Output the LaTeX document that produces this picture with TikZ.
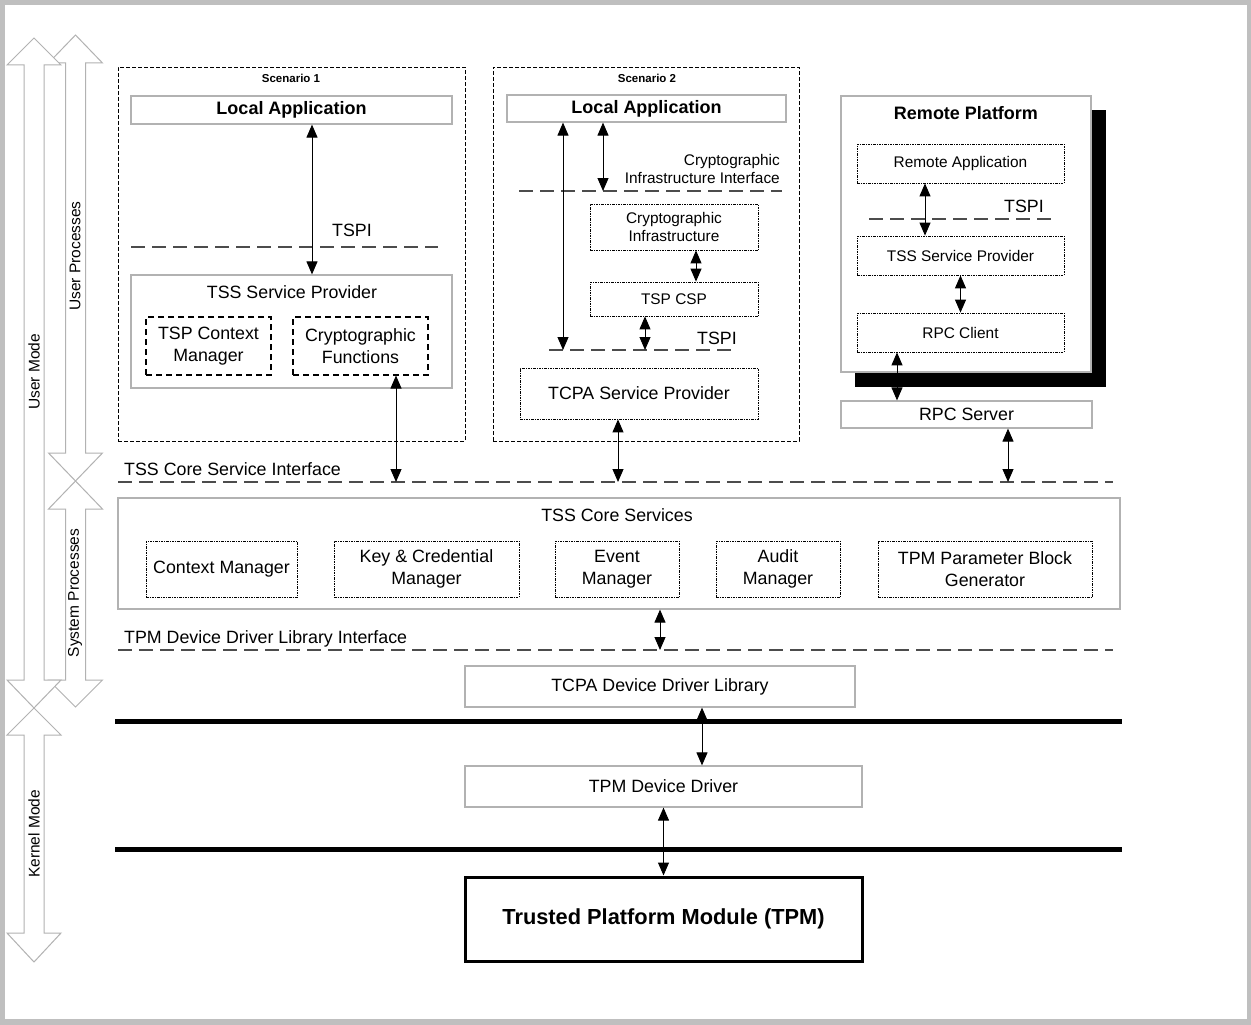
\documentclass[tikz,border=0pt]{standalone}
\usepackage{fontspec}
\setmainfont{Liberation Sans}
\usetikzlibrary{arrows.meta}
\tikzset{
  solidbox/.style={draw=black!30, line width=1.2pt, fill=white, inner sep=0pt},
  dashbox/.style={draw=black, line width=1.1pt, dash pattern=on 6pt off 4pt, inner sep=0pt},
  dotbox/.style={draw=black, line width=0.8pt, dash pattern=on 2.5pt off 1pt on 1pt off 1pt, inner sep=0pt},
  scenbox/.style={draw=black, line width=0.9pt, dash pattern=on 4pt off 2pt, inner sep=0pt},
  iface/.style={draw=black!70, line width=1.2pt, dash pattern=on 14pt off 7pt},
  thickbar/.style={draw=black, line width=5pt},
  dbl/.style={{Triangle[length=13pt,width=11pt]}-{Triangle[length=13pt,width=11pt]}, line width=1pt},
  modearrow/.style={draw=black!30, line width=1pt, fill=white},
  mtxt/.style={font=\fontsize{17.8}{22}\selectfont, align=center, inner sep=0pt},
  stxt/.style={font=\fontsize{15.4}{18}\selectfont, align=center, inner sep=0pt},
  btxt/.style={font=\fontsize{18}{22}\selectfont\bfseries, inner sep=0pt},
  sctxt/.style={font=\fontsize{11.5}{13}\selectfont\bfseries, inner sep=0pt},
  rtxt/.style={font=\fontsize{15.5}{18}\selectfont, rotate=90, inner sep=0pt},
}
\begin{document}
\begin{tikzpicture}[x=1pt,y=-1pt]
\useasboundingbox (0,0) rectangle (1251,1025);
\fill[black!25] (0,0) rectangle (1251,1025);
\fill[white] (5,5) rectangle (1247,1019);

% mode arrows
\path[modearrow] (75.5,35) -- (102.5,63) -- (85.5,63) -- (85.5,453) -- (102.5,453) -- (75.5,481) -- (48.5,453) -- (65.5,453) -- (65.5,63) -- (48.5,63) -- cycle;
\path[modearrow] (75.5,481) -- (102.5,509) -- (85.5,509) -- (85.5,680) -- (102.5,680) -- (75.5,707) -- (48.5,680) -- (65.5,680) -- (65.5,509) -- (48.5,509) -- cycle;
\path[modearrow] (34,38) -- (61,65) -- (44,65) -- (44,680) -- (61,680) -- (34,708) -- (7,680) -- (24,680) -- (24,65) -- (7,65) -- cycle;
\path[modearrow] (34,708) -- (61,735) -- (44,735) -- (44,933) -- (61,933) -- (34,962) -- (7,933) -- (24,933) -- (24,735) -- (7,735) -- cycle;
\node[rtxt] (um) at (34,372) {User Mode};
\node[rtxt] (up) at (75,256) {User Processes};
\node[rtxt] (sp) at (75,593) {System Processes};
\node[rtxt] (km) at (34,834) {Kernel Mode};

% Scenario 1
\node[scenbox, minimum width=347pt, minimum height=374pt] (sc1) at (291.5,254) {};
\node[sctxt] (sc1t) at (291,78) {Scenario 1};
\node[solidbox, minimum width=321pt, minimum height=28pt, btxt] (la1) at (291.5,110) {Local Application};
\node[solidbox, minimum width=321pt, minimum height=113pt] (tsp1) at (291.5,331.5) {};
\node[mtxt] (tsp1t) at (292,292) {TSS Service Provider};
\node[dashbox, minimum width=125pt, minimum height=58pt, mtxt] (ctx1) at (208.5,346) {TSP Context\\Manager};
\node[dashbox, minimum width=135pt, minimum height=58pt, mtxt] (cf1) at (360.5,346) {Cryptographic\\Functions};
\coordinate (tspi1a) at (131,247);
\coordinate (tspi1b) at (438,247);
\draw[iface] (tspi1a) -- (tspi1b);
\node[mtxt] (tspi1t) at (352,230) {TSPI};
\draw[dbl] ([xshift=20.5pt]la1.south) -- ([xshift=20.5pt]tsp1.north);

% Scenario 2
\node[scenbox, minimum width=306pt, minimum height=374pt] (sc2) at (646,254) {};
\node[sctxt] (sc2t) at (647,78) {Scenario 2};
\node[solidbox, minimum width=279pt, minimum height=27pt, btxt] (la2) at (646.5,108.5) {Local Application};
\coordinate (cii1) at (519,191);
\coordinate (cii2) at (782,191);
\draw[iface] (cii1) -- (cii2);
\node[stxt, align=right, anchor=east] (ciit) at (780,169) {Cryptographic\\Infrastructure Interface};
\node[dotbox, minimum width=168pt, minimum height=46pt, stxt] (ci) at (674,227) {Cryptographic\\Infrastructure};
\node[dotbox, minimum width=168pt, minimum height=34pt, stxt] (csp) at (674,299) {TSP CSP};
\coordinate (tspi2a) at (549,350);
\coordinate (tspi2b) at (737,350);
\draw[iface] (tspi2a) -- (tspi2b);
\node[mtxt] (tspi2t) at (717,338) {TSPI};
\node[dotbox, minimum width=238pt, minimum height=51pt, mtxt] (tcpasp) at (639,393.5) {TCPA Service Provider};
\coordinate (e563) at (563,350);
\coordinate (e603) at (603,191);
\coordinate (e645) at (645,350);
\draw[dbl] ([xshift=-83.5pt]la2.south) -- (e563);
\draw[dbl] ([xshift=-43.5pt]la2.south) -- (e603);
\draw[dbl] ([xshift=22pt]ci.south) -- ([xshift=22pt]csp.north);
\draw[dbl] ([xshift=-29pt]csp.south) -- (e645);

% Remote platform
\fill[black] (855,110) rectangle (1106,387);
\node[solidbox, minimum width=250pt, minimum height=276pt] (rp) at (966,234) {};
\node[btxt] (rpt) at (966,113) {Remote Platform};
\node[dotbox, minimum width=207pt, minimum height=39pt, stxt] (ra) at (960.5,163.5) {Remote Application};
\coordinate (tspi3a) at (869,219);
\coordinate (tspi3b) at (1056,219);
\draw[iface] (tspi3a) -- (tspi3b);
\node[mtxt] (tspi3t) at (1024,206) {TSPI};
\node[dotbox, minimum width=207pt, minimum height=39pt, stxt] (rtsp) at (960.5,255.5) {TSS Service Provider};
\node[dotbox, minimum width=207pt, minimum height=39pt, stxt] (rpcc) at (960.5,332.5) {RPC Client};
\node[solidbox, minimum width=251pt, minimum height=27pt, mtxt] (rpcs) at (966.5,414.5) {RPC Server};
\draw[dbl] ([xshift=-35.5pt]ra.south) -- ([xshift=-35.5pt]rtsp.north);
\draw[dbl] (rtsp.south) -- (rpcc.north);
\draw[dbl] ([xshift=-63.5pt]rpcc.south) -- ([xshift=-69.5pt]rpcs.north);

% TSS Core Service Interface
\coordinate (tcsia) at (118,482);
\coordinate (tcsib) at (1113,482);
\draw[iface] (tcsia) -- (tcsib);
\node[mtxt, anchor=base west] (tcsit) at (124,475) {TSS Core Service Interface};
\coordinate (e396) at (396,482);
\coordinate (e618) at (618,482);
\coordinate (e1008) at (1008,482);
\draw[dbl] ([xshift=35.5pt]cf1.south) -- (e396);
\draw[dbl] ([xshift=-21pt]tcpasp.south) -- (e618);
\draw[dbl] ([xshift=41.5pt]rpcs.south) -- (e1008);

% Core services
\node[solidbox, minimum width=1002pt, minimum height=111pt] (core) at (619,553.5) {};
\node[mtxt] (coret) at (617,515) {TSS Core Services};
\node[dotbox, minimum width=151pt, minimum height=56pt, mtxt] (cm) at (221.5,569) {Context Manager};
\node[dotbox, minimum width=185pt, minimum height=56pt, mtxt] (kcm) at (426.5,569) {Key \& Credential\\Manager};
\node[dotbox, minimum width=124pt, minimum height=56pt, mtxt] (em) at (617,569) {Event\\Manager};
\node[dotbox, minimum width=124pt, minimum height=56pt, mtxt] (am) at (778,569) {Audit\\Manager};
\node[dotbox, minimum width=214pt, minimum height=56pt, mtxt] (pbg) at (985,569) {TPM Parameter Block\\Generator};

% DDL interface
\coordinate (ddlia) at (118,650);
\coordinate (ddlib) at (1113,650);
\draw[iface] (ddlia) -- (ddlib);
\node[mtxt, anchor=base west] (ddlit) at (124,643) {TPM Device Driver Library Interface};
\coordinate (e660) at (660,650);
\draw[dbl] ([xshift=41pt]core.south) -- (e660);

\node[solidbox, minimum width=390pt, minimum height=41pt, mtxt] (ddl) at (660,686.5) {TCPA Device Driver Library};
\coordinate (bar1a) at (115,721);
\coordinate (bar1b) at (1122,721);
\draw[thickbar] (bar1a) -- (bar1b);
\node[solidbox, minimum width=397pt, minimum height=41pt, mtxt] (tdd) at (663.5,786.5) {TPM Device Driver};
\coordinate (bar2a) at (115,849);
\coordinate (bar2b) at (1122,849);
\draw[thickbar] (bar2a) -- (bar2b);
\node[draw=black, line width=3pt, fill=white, minimum width=397pt, minimum height=84pt, inner sep=0pt, font=\fontsize{21.8}{26}\selectfont\bfseries] (tpm) at (663.5,919) {Trusted Platform Module (TPM)};
\draw[dbl] ([xshift=42pt]ddl.south) -- ([xshift=38.5pt]tdd.north);
\draw[dbl] (tdd.south) -- (tpm.north);
\end{tikzpicture}
\end{document}
